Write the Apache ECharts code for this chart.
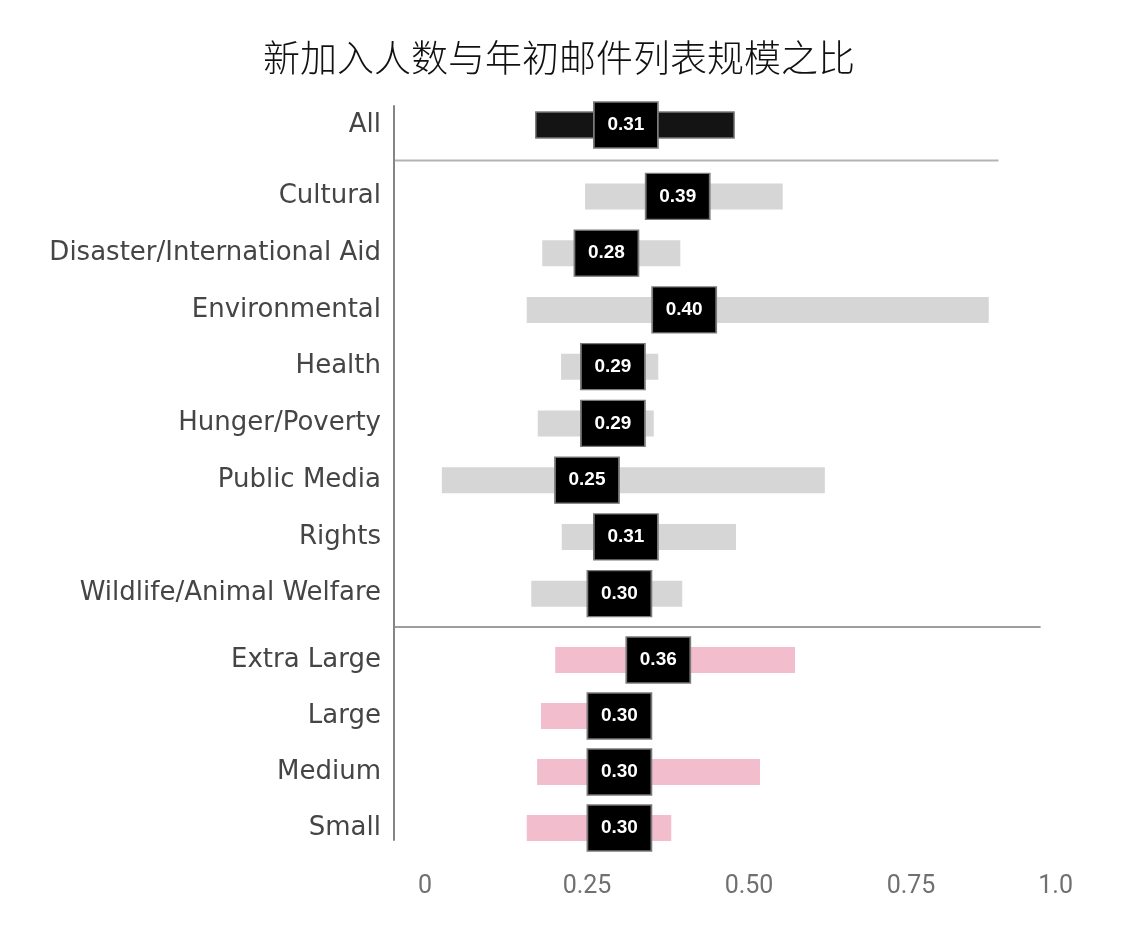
<!DOCTYPE html>
<html><head><meta charset="utf-8">
<script src="https://cdn.jsdelivr.net/npm/echarts@6/dist/echarts.min.js"></script>
<style>html,body{margin:0;padding:0;background:#fff}#c{width:1132px;height:941px}</style>
</head><body><div id="c"></div>
<script>
// ---- data ----
const titleText = '新加入人数与年初邮件列表规模之比';
const allCats = ['All'];
const allLow = [0.171];
const allHigh = [0.477];
const allMed = [0.31];
const causeCats = ['Cultural', 'Disaster/International Aid', 'Environmental', 'Health', 'Hunger/Poverty', 'Public Media', 'Rights', 'Wildlife/Animal Welfare'];
const causeLow = [0.247, 0.181, 0.157, 0.210, 0.174, 0.026, 0.211, 0.164];
const causeHigh = [0.552, 0.394, 0.870, 0.360, 0.353, 0.617, 0.480, 0.397];
const causeMed = [0.39, 0.28, 0.40, 0.29, 0.29, 0.25, 0.31, 0.30];
const sizeCats = ['Extra Large', 'Large', 'Medium', 'Small'];
const sizeLow = [0.201, 0.179, 0.173, 0.157];
const sizeHigh = [0.571, 0.346, 0.517, 0.380];
const sizeMed = [0.36, 0.30, 0.30, 0.30];
const xTicks = ['0', '0.25', '0.50', '0.75', '1.0'];

// ---- layout ----
const L = 425, W = 648;
const grids = [
  { left: L, width: W, top: 97, height: 56 },
  { left: L, width: W, top: 168, height: 454 },
  { left: L, width: W, top: 632, height: 224 },
  { left: L, width: W, top: 106, height: 734 }
];
const groups = [
  { cats: allCats, lo: allLow, hi: allHigh, med: allMed, fill: '#141414', stroke: '#7a7a7a' },
  { cats: causeCats, lo: causeLow, hi: causeHigh, med: causeMed, fill: '#d6d6d6', stroke: null },
  { cats: sizeCats, lo: sizeLow, hi: sizeHigh, med: sizeMed, fill: '#f2bdcc', stroke: null }
];

function rangeRender(fill, stroke) {
  return function (params, api) {
    const a = api.coord([api.value(0), api.value(2)]);
    const b = api.coord([api.value(1), api.value(2)]);
    const h = 26;
    return {
      type: 'rect',
      shape: { x: a[0], y: a[1] - h / 2, width: b[0] - a[0], height: h },
      style: { fill: fill, stroke: stroke || null, lineWidth: stroke ? 1.5 : 0 }
    };
  };
}

const xAxes = [], yAxes = [], series = [];
groups.forEach((g, i) => {
  xAxes.push({
    gridIndex: i, type: 'value', min: 0, max: 1, interval: 0.25,
    axisLine: { show: false }, axisTick: { show: false }, splitLine: { show: false },
    axisLabel: {
      show: i === 2, margin: 18, fontSize: 25, color: '#707070',
      fontFamily: "'Liberation Sans Narrow', Roboto, sans-serif",
      alignMaxLabel: 'right',
      formatter: v => xTicks[Math.round(v / 0.25)]
    }
  });
  yAxes.push({
    gridIndex: i, type: 'category', data: g.cats, inverse: true,
    axisLine: { show: false }, axisTick: { show: false }, splitLine: { show: false },
    axisLabel: { margin: 44, fontSize: 26, color: '#454545', fontFamily: "'DejaVu Sans', sans-serif" }
  });
  series.push({
    type: 'custom', xAxisIndex: i, yAxisIndex: i,
    renderItem: rangeRender(g.fill, g.stroke),
    encode: { x: [0, 1], y: 2 },
    data: g.cats.map((c, k) => [g.lo[k], g.hi[k], k]),
    z: 2
  });
  series.push({
    type: 'scatter', xAxisIndex: i, yAxisIndex: i,
    symbol: 'rect', symbolSize: [64, 46],
    itemStyle: { color: '#000', borderColor: '#7a7a7a', borderWidth: 1.5, opacity: 1 },
    label: {
      show: true, position: 'inside', color: '#fff', fontSize: 19, fontWeight: 'bold',
      fontFamily: "'Liberation Sans', Arial, sans-serif",
      formatter: p => p.value[0].toFixed(2)
    },
    emphasis: { disabled: true },
    data: g.cats.map((c, k) => [g.med[k], k]),
    z: 5
  });
});
// vertical axis line grid
xAxes.push({ gridIndex: 3, type: 'value', min: 0, max: 1, show: false });
yAxes.push({
  gridIndex: 3, type: 'category', data: [''], offset: 31, position: 'left',
  axisLine: { show: true, onZero: false, lineStyle: { color: '#858585', width: 2 } },
  axisTick: { show: false }, axisLabel: { show: false }, splitLine: { show: false }
});

const chart = echarts.init(document.getElementById('c'), null, { renderer: 'canvas' });
chart.setOption({
  backgroundColor: '#fff',
  animation: false,
  title: {
    text: titleText, left: 258, top: 34,
    textStyle: { fontSize: 37, fontWeight: 300, color: '#111', fontFamily: "'Noto Sans CJK SC', sans-serif" }
  },
  grid: grids,
  xAxis: xAxes,
  yAxis: yAxes,
  series: series
});

// separators between groups, derived from the grid layout
const axisX = chart.convertToPixel({ xAxisIndex: 0 }, 0) - 31;
const sep1Y = (grids[0].top + grids[0].height + grids[1].top) / 2;
const sep2Y = (grids[1].top + grids[1].height + grids[2].top) / 2;
const sep1End = chart.convertToPixel({ xAxisIndex: 0 }, 0.885);
const sep2End = chart.convertToPixel({ xAxisIndex: 0 }, 0.95);
chart.setOption({
  graphic: [
    { type: 'line', shape: { x1: axisX, y1: sep1Y, x2: sep1End, y2: sep1Y }, style: { stroke: '#b3b3b3', lineWidth: 2 } },
    { type: 'line', shape: { x1: axisX, y1: sep2Y, x2: sep2End, y2: sep2Y }, style: { stroke: '#9e9e9e', lineWidth: 2 } }
  ]
});
</script>
</body></html>
